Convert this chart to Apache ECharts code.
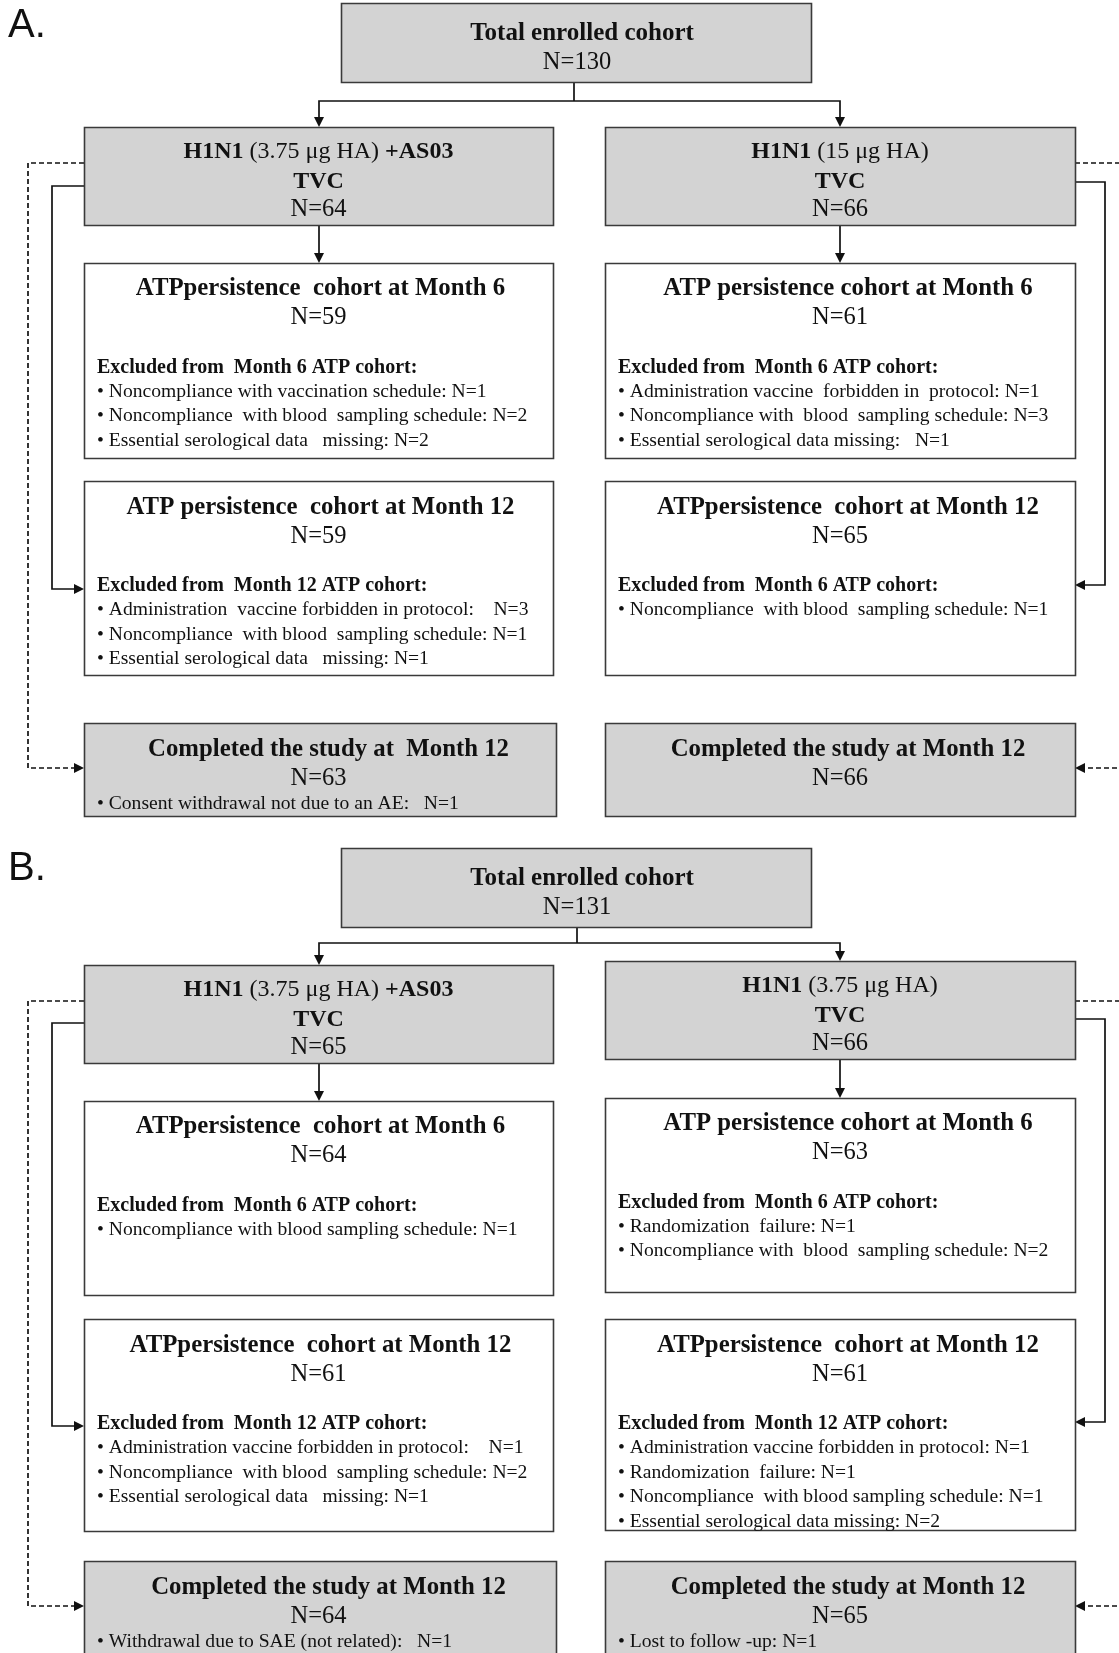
<!DOCTYPE html>
<html><head><meta charset="utf-8">
<script src="https://cdn.jsdelivr.net/npm/echarts@6/dist/echarts.min.js"></script>
<style>html,body{margin:0;padding:0;background:#fff}#c{width:1119px;height:1653px}</style>
</head><body><div id="c"></div>
<script>
// ---------------- DATA ----------------
const panelLabels = ['A.', 'B.'];
const totalTitle = 'Total enrolled cohort';
const totalEnrolled = [130, 131];
const groupTitles = [
  ['{b|H1N1} (3.75 μg HA) {b|+AS03}', '{b|H1N1} (15 μg HA)'],
  ['{b|H1N1} (3.75 μg HA) {b|+AS03}', '{b|H1N1} (3.75 μg HA)']
];
const groupCohort = 'TVC';
const groupN = [[64, 66], [65, 66]];

const m6Titles = [
  ['ATPpersistence  cohort at Month 6', 'ATP persistence cohort at Month 6'],
  ['ATPpersistence  cohort at Month 6', 'ATP persistence cohort at Month 6']
];
const m6N = [[59, 61], [64, 63]];
const m6ExclHeads = [
  ['Excluded from  Month 6 ATP cohort:', 'Excluded from  Month 6 ATP cohort:'],
  ['Excluded from  Month 6 ATP cohort:', 'Excluded from  Month 6 ATP cohort:']
];
const m6Reasons = [
  [['Noncompliance with vaccination schedule:', 'Noncompliance  with blood  sampling schedule:', 'Essential serological data   missing:'],
   ['Administration vaccine  forbidden in  protocol:', 'Noncompliance with  blood  sampling schedule:', 'Essential serological data missing:  ']],
  [['Noncompliance with blood sampling schedule:'],
   ['Randomization  failure:', 'Noncompliance with  blood  sampling schedule:']]
];
const m6Counts = [
  [[1, 2, 2], [1, 3, 1]],
  [[1], [1, 2]]
];

const m12Titles = [
  ['ATP persistence  cohort at Month 12', 'ATPpersistence  cohort at Month 12'],
  ['ATPpersistence  cohort at Month 12', 'ATPpersistence  cohort at Month 12']
];
const m12N = [[59, 65], [61, 61]];
const m12ExclHeads = [
  ['Excluded from  Month 12 ATP cohort:', 'Excluded from  Month 6 ATP cohort:'],
  ['Excluded from  Month 12 ATP cohort:', 'Excluded from  Month 12 ATP cohort:']
];
const m12Reasons = [
  [['Administration  vaccine forbidden in protocol:   ', 'Noncompliance  with blood  sampling schedule:', 'Essential serological data   missing:'],
   ['Noncompliance  with blood  sampling schedule:']],
  [['Administration vaccine forbidden in protocol:   ', 'Noncompliance  with blood  sampling schedule:', 'Essential serological data   missing:'],
   ['Administration vaccine forbidden in protocol:', 'Randomization  failure:', 'Noncompliance  with blood sampling schedule:', 'Essential serological data missing:']]
];
const m12Counts = [
  [[3, 1, 1], [1]],
  [[1, 2, 1], [1, 1, 1, 2]]
];

const completedTitles = [
  ['Completed the study at  Month 12', 'Completed the study at Month 12'],
  ['Completed the study at Month 12', 'Completed the study at Month 12']
];
const completedN = [[63, 66], [64, 65]];
const completedReasons = [
  [['Consent withdrawal not due to an AE:  '], []],
  [['Withdrawal due to SAE (not related):  '], ['Lost to follow -up:']]
];
const completedCounts = [
  [[1], []],
  [[1], [1]]
];

// ---------------- LAYOUT ----------------
const colX = [[84, 553], [605, 1075]];
const compX = [[84, 556], [605, 1075]];
const arrowX = [319, 840];
const bulletX = [97, 618];
const headDx = [[2, 8], [2, 8]];
const layout = [
  {labelY: 26, top: [3, 82], hline: 101, stemX: 574,
   group: [[127, 225], [127, 225]], m6: [[263, 458], [263, 458]], m12: [[481, 675], [481, 675]],
   comp: [[723, 816], [723, 816]], dashY: [163, 163], solidY: [186, 182],
   dashEndY: [768, 768], solidEndY: [589, 585]},
  {labelY: 869, top: [848, 927], hline: 943, stemX: 577,
   group: [[965, 1063], [961, 1059]], m6: [[1101, 1295], [1098, 1292]], m12: [[1319, 1531], [1319, 1530]],
   comp: [[1561, 1690], [1561, 1690]], dashY: [1001, 1001], solidY: [1023, 1019],
   dashEndY: [1606, 1606], solidEndY: [1426, 1422]}
];

const SERIF = '"Liberation Serif", "Times New Roman", serif';
const INK = '#111';
const GRAY = '#d3d3d3';
const BORDER = '#3a3a3a';
const TDY = 2.6;       // vertical text nudge
const HEAD = 24.8;     // bold heading size
const NUM = 24.5;      // N= size
const SMALL_B = 20;    // excluded heading size
const SMALL = 19.6;    // bullet size
const lines = [], rects = [], texts = [];

function txt(x, y, text, size, bold, align, rich) {
  const st = {text: text, fontFamily: SERIF, fontSize: size, fontWeight: bold ? 'bold' : 'normal',
    fill: INK, align: align || 'center', verticalAlign: 'middle',
    textAlign: align || 'center', textVerticalAlign: 'middle'};
  if (rich) st.rich = rich;
  texts.push({type: 'text', x: x, y: y + TDY, silent: true, style: st});
}
function box(x1, y1, x2, y2, fill) {
  rects.push({type: 'rect', silent: true, shape: {x: x1 + 0.5, y: y1 + 0.5, width: x2 - x1, height: y2 - y1},
    style: {fill: fill, stroke: BORDER, lineWidth: 1.6}});
}
function pl(points, dashed) {
  lines.push({type: 'polyline', silent: true, shape: {points: points},
    style: {stroke: INK, lineWidth: 1.7, fill: null, lineDash: dashed ? [5, 3] : null}});
}
function arrow(x, y, dir) {
  const L = 10, W = 5;
  let p;
  if (dir === 'down') p = [[x, y], [x - W, y - L], [x + W, y - L]];
  else if (dir === 'right') p = [[x, y], [x - L, y - W], [x - L, y + W]];
  else p = [[x, y], [x + L, y - W], [x + L, y + W]];
  lines.push({type: 'polygon', silent: true, shape: {points: p}, style: {fill: INK}});
}
const rich = {b: {fontWeight: 'bold', fontFamily: SERIF, fontSize: 24, fill: INK}};
const bullet = (r, c) => '• ' + r + ' N=' + c;

panelLabels.forEach(function (lab, p) {
  const L = layout[p];
  texts.push({type: 'text', x: 8, y: L.labelY, silent: true,
    style: {text: lab, fontFamily: '"Liberation Sans", Arial, sans-serif', fontSize: 40, fill: INK,
      align: 'left', verticalAlign: 'middle', textAlign: 'left', textVerticalAlign: 'middle'}});
  // top box
  box(341, L.top[0], 811, L.top[1], GRAY);
  txt(582, L.top[0] + 28, totalTitle, 25, true);
  txt(577, L.top[0] + 57, 'N=' + totalEnrolled[p], NUM, false);
  // connectors
  pl([[L.stemX, L.top[1]], [L.stemX, L.hline]]);
  pl([[arrowX[0], L.group[0][0] - 8], [arrowX[0], L.hline], [arrowX[1], L.hline], [arrowX[1], L.group[1][0] - 8]]);
  arrow(arrowX[0], L.group[0][0], 'down');
  arrow(arrowX[1], L.group[1][0], 'down');

  [0, 1].forEach(function (s) {
    const cx = (colX[s][0] + colX[s][1]) / 2;
    const g = L.group[s], a = L.m6[s], b = L.m12[s], c = L.comp[s];
    // group box
    box(colX[s][0], g[0], colX[s][1], g[1], GRAY);
    txt(cx, g[0] + 22.5, groupTitles[p][s], 24, false, 'center', rich);
    txt(cx, g[0] + 52, groupCohort, 24, true);
    txt(cx, g[0] + 80, 'N=' + groupN[p][s], NUM, false);
    pl([[arrowX[s], g[1]], [arrowX[s], a[0] - 8]]);
    arrow(arrowX[s], a[0], 'down');
    // month 6
    box(colX[s][0], a[0], colX[s][1], a[1], '#fff');
    txt(cx + headDx[p][s], a[0] + 23, m6Titles[p][s], HEAD, true);
    txt(cx, a[0] + 52, 'N=' + m6N[p][s], NUM, false);
    txt(bulletX[s], a[0] + 102, m6ExclHeads[p][s], SMALL_B, true, 'left');
    m6Reasons[p][s].forEach(function (r, i) {
      txt(bulletX[s], a[0] + 126 + i * 24.6, bullet(r, m6Counts[p][s][i]), SMALL, false, 'left');
    });
    // month 12
    box(colX[s][0], b[0], colX[s][1], b[1], '#fff');
    txt(cx + headDx[p][s], b[0] + 23.5, m12Titles[p][s], HEAD, true);
    txt(cx, b[0] + 52.5, 'N=' + m12N[p][s], NUM, false);
    txt(bulletX[s], b[0] + 102, m12ExclHeads[p][s], SMALL_B, true, 'left');
    m12Reasons[p][s].forEach(function (r, i) {
      txt(bulletX[s], b[0] + 126.5 + i * 24.6, bullet(r, m12Counts[p][s][i]), SMALL, false, 'left');
    });
    // completed
    box(compX[s][0], c[0], compX[s][1], c[1], GRAY);
    txt(cx + headDx[p][s] + (s === 0 ? 8 : 0), c[0] + 24, completedTitles[p][s], HEAD, true);
    txt(cx, c[0] + 52.5, 'N=' + completedN[p][s], NUM, false);
    completedReasons[p][s].forEach(function (r, i) {
      txt(bulletX[s], c[0] + 78 + i * 24.6, bullet(r, completedCounts[p][s][i]), SMALL, false, 'left');
    });
  });
  // side connectors, left
  pl([[colX[0][0], L.dashY[0]], [28, L.dashY[0]], [28, L.dashEndY[0]], [compX[0][0] - 8, L.dashEndY[0]]], true);
  arrow(compX[0][0], L.dashEndY[0], 'right');
  pl([[colX[0][0], L.solidY[0]], [52, L.solidY[0]], [52, L.solidEndY[0]], [colX[0][0] - 8, L.solidEndY[0]]]);
  arrow(colX[0][0], L.solidEndY[0], 'right');
  // right
  pl([[colX[1][1], L.dashY[1]], [1125, L.dashY[1]]], true);
  pl([[1125, L.dashEndY[1]], [compX[1][1] + 8, L.dashEndY[1]]], true);
  arrow(compX[1][1], L.dashEndY[1], 'left');
  pl([[colX[1][1], L.solidY[1]], [1105, L.solidY[1]], [1105, L.solidEndY[1]], [colX[1][1] + 8, L.solidEndY[1]]]);
  arrow(colX[1][1], L.solidEndY[1], 'left');
});

const chart = echarts.init(document.getElementById('c'), null, {renderer: 'canvas'});
chart.setOption({
  backgroundColor: '#fff',
  animation: false,
  graphic: {elements: lines.concat(rects, texts)}
});
</script></body></html>
